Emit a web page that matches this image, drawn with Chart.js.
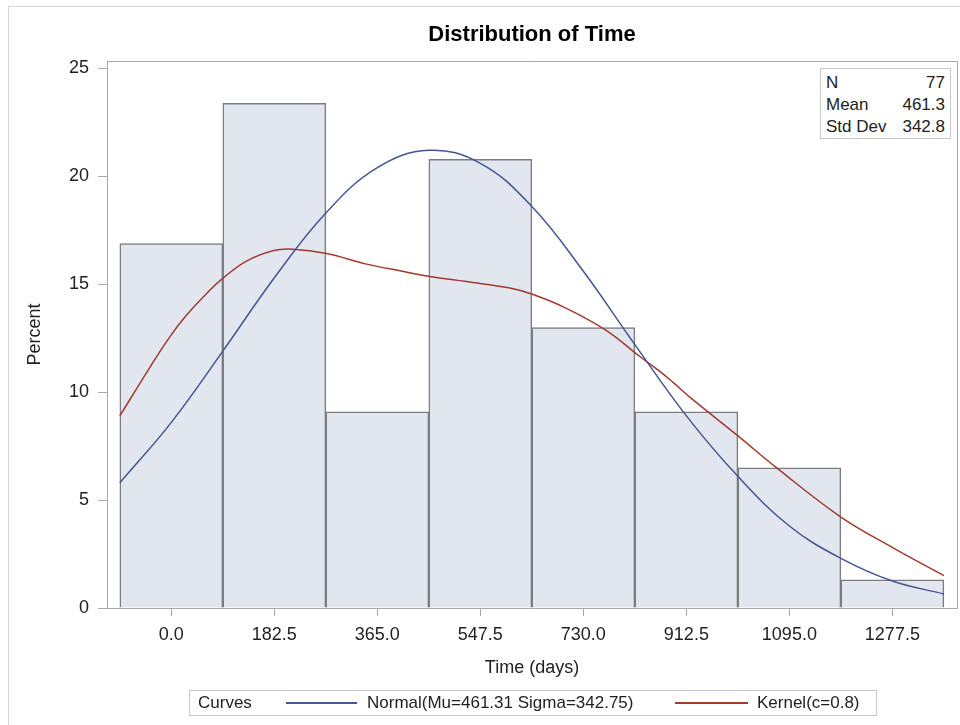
<!DOCTYPE html>
<html>
<head>
<meta charset="utf-8">
<script src="https://cdn.jsdelivr.net/npm/chart.js@4.4.1/dist/chart.umd.min.js"></script>
<style>
  body { margin: 0; background: #fff; font-family: "Liberation Sans", Arial, sans-serif; color: #222; }
  #wrap { position: relative; width: 960px; height: 725px; overflow: hidden; }
  #outer { position: absolute; left: 8px; top: 6px; width: 1000px; height: 1000px; border: 1px solid #d4d4d4; }
  #myChart { position: absolute; left: 0; top: 0; }
  #stats { position: absolute; left: 820px; top: 68px; width: 129px; height: 69px; border: 1px solid #c8c8c8; background: #fff; font-size: 17px; }
  #stats div { position: absolute; left: 5px; right: 5px; height: 22px; line-height: 22px; }
  #stats span { float: right; }
  #legend { position: absolute; left: 189px; top: 690px; width: 686px; height: 24px; border: 1px solid #c8c8c8; font-size: 17px; }
  #legend .t { position: absolute; top: 0; line-height: 24px; white-space: nowrap; }
  #legend .l { position: absolute; top: 11px; height: 2px; display: block; }
</style>
</head>
<body>
<div id="wrap">
  <div id="outer"></div>
  <canvas id="myChart" width="960" height="725"></canvas>
  <div id="stats">
    <div style="top:3px">N<span>77</span></div>
    <div style="top:25px">Mean<span>461.3</span></div>
    <div style="top:47px">Std Dev<span>342.8</span></div>
  </div>
  <div id="legend">
    <span class="t" style="left:8px">Curves</span>
    <div class="l" style="left:96px;width:71px;background-color:#445694"></div>
    <span class="t" style="left:177px">Normal(Mu=461.31 Sigma=342.75)</span>
    <div class="l" style="left:485px;width:73px;background-color:#A23A2E"></div>
    <span class="t" style="left:567px">Kernel(c=0.8)</span>
  </div>
</div>
<script>
// histogram bins (midpoints, days) and percent of N=77
const binCenters = [0, 182.5, 365, 547.5, 730, 912.5, 1095, 1277.5];
const binPercents = [16.88, 23.38, 9.09, 20.78, 12.99, 9.09, 6.49, 1.30];

// normal curve
const normalX = [-91.25, 0, 91.25, 182.5, 273.75, 365, 456.25, 547.5, 638.75, 730, 821.25, 912.5, 1003.75, 1095, 1186.25, 1277.5, 1368.75];
const normalY = [5.8, 8.6, 11.9, 15.3, 18.3, 20.4, 21.2, 20.6, 18.6, 15.6, 12.2, 8.9, 6.1, 3.8, 2.3, 1.25, 0.65];

// kernel curve
const kernelX = [-91.25, -38, -3, 27, 68, 91, 133, 180, 215, 275, 346, 405, 458, 523, 600, 641, 700, 771, 830, 866, 889, 924, 1005, 1072, 1187, 1278, 1368.75];
const kernelY = [8.9, 11.15, 12.55, 13.57, 14.72, 15.27, 16.07, 16.55, 16.62, 16.42, 15.93, 15.62, 15.36, 15.12, 14.82, 14.52, 13.88, 12.85, 11.65, 10.95, 10.45, 9.65, 7.95, 6.5, 4.2, 2.8, 1.5];

const yTicks = [0, 5, 10, 15, 20, 25];

const fontFamily = '"Liberation Sans", Arial, sans-serif';
const axisGray = '#a8a8a8';

const framePlugin = {
  id: 'frame',
  afterDraw(chart) {
    const { ctx, chartArea: a } = chart;
    ctx.save();
    ctx.strokeStyle = axisGray;
    ctx.lineWidth = 1;
    ctx.beginPath();
    ctx.moveTo(a.left, a.top + 0.5);
    ctx.lineTo(a.right + 0.5, a.top + 0.5);
    ctx.lineTo(a.right + 0.5, a.bottom);
    ctx.stroke();
    ctx.restore();
  }
};

const ctx = document.getElementById('myChart');
const chart = new Chart(ctx, {
  type: 'bar',
  data: {
    datasets: [
      {
        type: 'line',
        label: 'Normal',
        data: normalX.map((x, i) => ({ x: x, y: normalY[i] })),
        borderColor: '#445694',
        borderWidth: 1.5,
        pointRadius: 0,
        tension: 0.4,
        order: 1
      },
      {
        type: 'line',
        label: 'Kernel',
        data: kernelX.map((x, i) => ({ x: x, y: kernelY[i] })),
        borderColor: '#A23A2E',
        borderWidth: 1.5,
        pointRadius: 0,
        tension: 0.4,
        order: 1
      },
      {
        label: 'Percent',
        data: binCenters.map((x, i) => ({ x: x, y: binPercents[i] })),
        backgroundColor: '#e2e6ef',
        borderColor: '#7b7d80',
        borderWidth: 1.5,
        barPercentage: 1,
        categoryPercentage: 1,
        order: 2
      }
    ]
  },
  options: {
    responsive: false,
    animation: false,
    layout: { padding: { left: 8, right: 3, top: 0, bottom: 37 } },
    plugins: {
      legend: { display: false },
      tooltip: { enabled: false },
      title: {
        display: true,
        text: 'Distribution of Time',
        fullSize: false,
        color: '#000',
        font: { family: fontFamily, size: 22, weight: 'bold', lineHeight: 1.2 },
        padding: { top: 22, bottom: 12.6 }
      }
    },
    scales: {
      x: {
        type: 'linear',
        min: -114,
        max: 1392,
        offset: false,
        afterFit: s => { s.height = 80; },
        afterBuildTicks: s => { s.ticks = binCenters.map(v => ({ value: v })); },
        ticks: {
          color: '#222',
          padding: 8,
          maxRotation: 0,
          autoSkip: false,
          font: { family: fontFamily, size: 18 },
          callback: v => v.toFixed(1)
        },
        grid: { drawOnChartArea: false, offset: false, tickLength: 8, color: axisGray },
        border: { color: axisGray },
        title: {
          display: true,
          text: 'Time (days)',
          color: '#222',
          font: { family: fontFamily, size: 18 },
          padding: { top: 0, bottom: 9 }
        }
      },
      y: {
        min: 0,
        max: 25.34,
        afterFit: s => { s.width = 99; },
        afterBuildTicks: s => { s.ticks = yTicks.map(v => ({ value: v })); },
        ticks: {
          color: '#222',
          padding: 9,
          font: { family: fontFamily, size: 18 }
        },
        grid: { drawOnChartArea: false, tickLength: 9, color: axisGray },
        border: { color: axisGray },
        title: {
          display: true,
          text: 'Percent',
          color: '#222',
          font: { family: fontFamily, size: 18 },
          padding: { top: 16, bottom: 0 }
        }
      }
    }
  },
  plugins: [framePlugin]
});
</script>
</body>
</html>
